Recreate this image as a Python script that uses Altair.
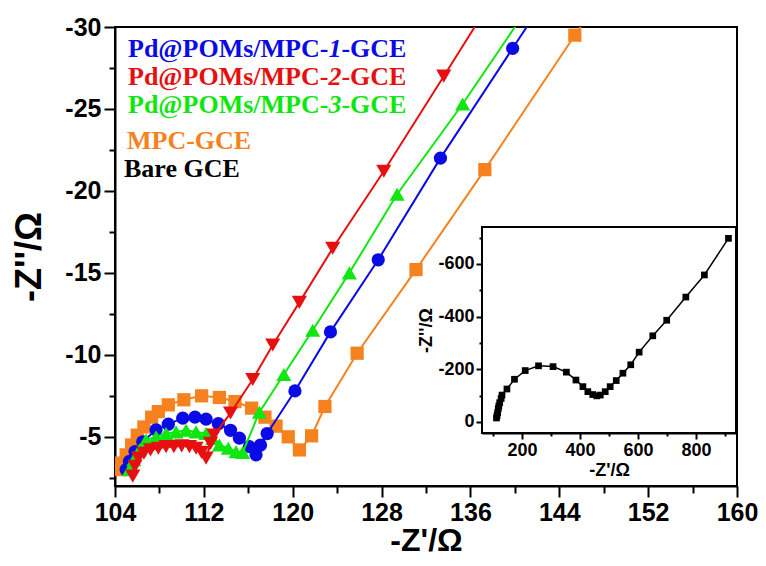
import altair as alt
import pandas as pd

# ---------------- data ----------------
blue_x = [105.0, 105.3, 105.8, 106.5, 107.7, 108.8, 110.1, 111.2, 112.2, 113.3, 114.4, 115.2,
          116.1, 116.7, 117.1, 117.7, 120.2, 123.4, 127.7, 133.3, 139.8, 147.0]
blue_y = [-3.0, -3.5, -4.1, -4.7, -5.43, -5.77, -6.14, -6.2, -6.08, -5.8, -5.4, -4.92,
          -4.4, -3.9, -4.5, -5.2, -7.8, -11.4, -15.8, -22.0, -28.7, -36.1]

red_x = [105.6, 105.8, 106.1, 106.6, 107.2, 107.9, 108.6, 109.3, 110.0, 110.7, 111.3, 111.8,
         112.2, 112.6, 112.9, 114.4, 116.4, 118.2, 120.6, 123.6, 128.2, 133.6, 140.0]
red_y = [-2.6, -3.2, -3.7, -4.0, -4.2, -4.3, -4.4, -4.4, -4.45, -4.4, -4.3, -4.05,
         -3.7, -4.6, -5.1, -6.45, -8.5, -10.6, -13.2, -16.5, -21.2, -27.0, -33.9]

green_x = [105.3, 105.7, 106.2, 106.8, 107.7, 108.6, 109.5, 110.4, 111.3, 112.2, 112.8, 113.4,
           114.2, 114.9, 115.5, 117.0, 119.2, 121.8, 125.1, 129.4, 135.3, 142.0]
green_y = [-3.0, -3.6, -4.2, -4.8, -5.0, -5.2, -5.3, -5.4, -5.3, -5.2, -4.9, -4.5,
           -4.3, -4.1, -4.05, -6.5, -8.8, -11.5, -15.0, -19.8, -25.3, -32.0]

orange_x = [104.4, 104.6, 105.0, 105.5, 106.0, 106.6, 107.3, 107.9, 108.8, 110.2, 111.8, 113.4,
            114.8, 116.3, 117.5, 118.5, 119.6, 120.6, 121.7, 122.9, 125.8, 131.1, 137.3, 145.4, 150.0]
orange_y = [-3.0, -3.4, -3.9, -4.5, -5.1, -5.6, -6.2, -6.54, -6.95, -7.26, -7.5, -7.4,
            -7.15, -6.75, -6.2, -5.65, -5.0, -4.2, -5.06, -6.85, -10.1, -15.2, -21.3, -29.5, -34.0]

inset_x = [112, 114, 116, 118, 120, 123, 128, 131, 148, 174, 211, 257, 307, 353, 386, 410,
           427, 444, 458, 470, 487, 504, 525, 548, 575, 604, 651, 699, 765, 829, 912]
inset_y = [15, 25, 35, 50, 60, 73, 89, 102, 125, 162, 195, 213, 210, 189, 159, 134,
           115, 104, 99, 102, 115, 134, 157, 185, 217, 265, 327, 386, 474, 558, 697]

main_x_ticks = list(range(104, 161, 4))
main_y_ticks = [-30 + 2.5 * k for k in range(12)]
inset_x_ticks = list(range(100, 901, 100))
inset_y_ticks = list(range(0, 701, 100))

BLUE, RED, GREEN, ORANGE = "#0a0ae6", "#e61010", "#10e610", "#f5821f"

legend_rows = [
    # (pieces, color)  pieces: (text, italic)
    ([("Pd@POMs/MPC-", False), ("1", True), ("-GCE", False)], BLUE),
    ([("Pd@POMs/MPC-", False), ("2", True), ("-GCE", False)], RED),
    ([("Pd@POMs/MPC-", False), ("3", True), ("-GCE", False)], GREEN),
    ([("MPC-GCE", False)], ORANGE),
    ([("Bare GCE", False)], "#000000"),
]

SANS = "Liberation Sans, Arial, sans-serif"
SERIF = "Liberation Serif, Times New Roman, serif"

W, H = 622, 459
PAD = {"left": 107, "top": 19, "right": 21, "bottom": 72}

# ---------------- main axes ----------------
xscale = alt.Scale(domain=[104, 160], nice=False, zero=False)
yscale = alt.Scale(domain=[-30, -2], reverse=True, nice=False, zero=False)

xaxis = alt.Axis(
    values=main_x_ticks,
    labelExpr="(datum.value-104)%8==0 ? datum.label : ''",
    tickSize={"condition": {"test": "(datum.value-104)%8!=0", "value": 7}, "value": 11},
    title="-Z'/Ω", titleFontSize=32, titleY=64, titleBaseline="alphabetic",
    labelFontSize=25, labelPadding=3, labelFlush=False,
)
yaxis = alt.Axis(
    values=main_y_ticks,
    labelExpr="datum.value%5==0 ? '-' + abs(datum.value) : ''",
    tickSize={"condition": {"test": "datum.value%5!=0", "value": 6}, "value": 11},
    title="-Z''/Ω", titleFontSize=36, titlePadding=16,
    labelFontSize=25, labelPadding=3,
)


def series(xs, ys, color, shape, size):
    df = pd.DataFrame({"x": xs, "y": ys, "i": range(len(xs))})
    base = alt.Chart(df).encode(
        x=alt.X("x:Q", scale=xscale, axis=xaxis),
        y=alt.Y("y:Q", scale=yscale, axis=yaxis),
        order="i:Q",
    )
    line = base.mark_line(color=color, strokeWidth=2, clip=True)
    pts = base.mark_point(shape=shape, filled=True, color=color, size=size, opacity=1, clip=True)
    return [line, pts]


dummy = pd.DataFrame({"a": [0]})

main_layers = []
main_layers += series(orange_x, orange_y, ORANGE, "square", 175)
main_layers += series(blue_x, blue_y, BLUE, "circle", 175)
main_layers += series(green_x, green_y, GREEN, "triangle-up", 230)
main_layers += series(red_x, red_y, RED, "triangle-down", 230)

# legend text (text only, coloured)
FS = 26
char_w = {"P": .611, "d": .556, "@": .930, "O": .778, "M": .944, "s": .389, "/": .278,
          "C": .722, "-": .333, "G": .778, "E": .667, "1": .5, "2": .5, "3": .5}
row_base = [30, 58, 86, 122, 150]
row_x = [13, 13, 13, 12, 9]
for (pieces, color), by, bx in zip(legend_rows, row_base, row_x):
    cx = bx
    for txt, ital in pieces:
        main_layers.append(
            alt.Chart(dummy).mark_text(
                text=txt, align="left", baseline="alphabetic", font=SERIF,
                fontWeight="bold", fontStyle="italic" if ital else "normal",
                fontSize=FS, color=color,
            ).encode(x=alt.value(cx), y=alt.value(by))
        )
        cx += sum(char_w.get(ch, .6) for ch in txt) * FS

main = alt.layer(*main_layers)

# ---------------- inset ----------------
IX0, IX1, IY0, IY1 = 367, 621, 200, 406
ixscale = alt.Scale(domain=[62, 938], range=[IX0, IX1], nice=False, zero=False)
iyscale = alt.Scale(domain=[-42, 740], range=[IY1, IY0], nice=False, zero=False)

ixaxis = alt.Axis(
    orient="bottom", offset=-(H - IY1), values=inset_x_ticks,
    labelExpr="datum.value%200==0 ? datum.label : ''",
    tickSize={"condition": {"test": "datum.value%200!=0", "value": 3}, "value": 6},
    title="-Z'/Ω", titleFontSize=18, titlePadding=2,
    labelFontSize=18, labelPadding=2, labelFlush=False,
)
iyaxis = alt.Axis(
    orient="left", offset=-IX0, values=inset_y_ticks,
    labelExpr="datum.value%200==0 ? (datum.value==0 ? '0' : '-' + datum.value) : ''",
    tickSize={"condition": {"test": "datum.value%200!=0", "value": 3}, "value": 6},
    title="-Z''/Ω", titleFontSize=18, titlePadding=2,
    labelFontSize=18, labelPadding=2,
)

frame = alt.Chart(dummy).mark_rect(fill="white", stroke="black", strokeWidth=2).encode(
    x=alt.value(IX0), x2=alt.value(IX1), y=alt.value(IY0), y2=alt.value(IY1)
)
idf = pd.DataFrame({"x": inset_x, "y": inset_y, "i": range(len(inset_x))})
ibase = alt.Chart(idf).encode(
    x=alt.X("x:Q", scale=ixscale, axis=ixaxis),
    y=alt.Y("y:Q", scale=iyscale, axis=iyaxis),
    order="i:Q",
)
inset = alt.layer(
    frame,
    ibase.mark_line(color="black", strokeWidth=1.5),
    ibase.mark_point(shape="square", filled=True, color="black", size=45, opacity=1),
)

chart = (
    alt.layer(main, inset)
    .resolve_scale(x="independent", y="independent")
    .properties(
        width=W, height=H,
        autosize=alt.AutoSizeParams(type="none"),
        padding=PAD,
    )
    .configure_view(stroke="black", strokeWidth=2)
    .configure_axis(
        grid=False, domainColor="black", domainWidth=2, tickColor="black", tickWidth=2,
        labelFont=SANS, labelFontWeight="bold", labelColor="black",
        titleFont=SANS, titleFontWeight="bold", titleColor="black",
    )
)

chart.save("out.html", embed_options={"renderer": "svg", "actions": False})
